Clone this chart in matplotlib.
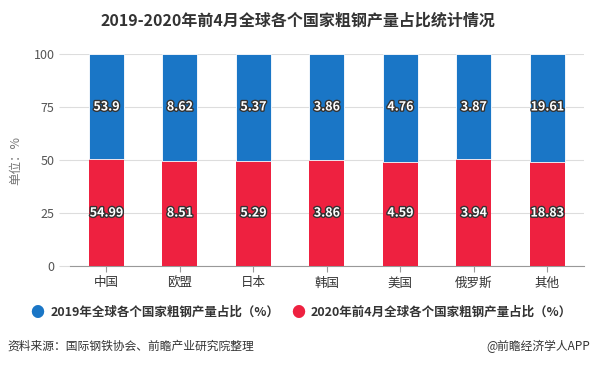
import matplotlib.pyplot as plt
import matplotlib.patheffects as pe
import numpy as np

plt.rcParams['font.family'] = ['Noto Sans CJK SC', 'DejaVu Sans']

countries = ["中国", "欧盟", "日本", "韩国", "美国", "俄罗斯", "其他"]
share_2019 = [53.9, 8.62, 5.37, 3.86, 4.76, 3.87, 19.61]
share_2020 = [54.99, 8.51, 5.29, 3.86, 4.59, 3.94, 18.83]

blue = "#1a76c6"
red = "#ee2140"

v19 = np.array(share_2019)
v20 = np.array(share_2020)
tot = v19 + v20
p20 = v20 / tot * 100
p19 = v19 / tot * 100

fig = plt.figure(figsize=(5.96, 3.67), dpi=100)
ax = fig.add_axes([0.117, 0.275, 0.863, 0.578])

x = np.arange(len(countries))
w = 0.476
ax.bar(x, p20, w, color=red, zorder=3)
ax.bar(x, p19, w, bottom=p20, color=blue, zorder=3, edgecolor="white", linewidth=0.6)

stroke = [pe.withStroke(linewidth=2, foreground="#333333")]
for i in range(len(x)):
    ax.text(x[i], 25, f"{share_2020[i]:g}", ha="center", va="center", color="white",
            fontsize=9, fontweight="bold", path_effects=stroke, zorder=4)
    ax.text(x[i], 75, f"{share_2019[i]:g}", ha="center", va="center", color="white",
            fontsize=9, fontweight="bold", path_effects=stroke, zorder=4)

ax.set_xlim(-0.5, len(x) - 0.5)
ax.set_ylim(0, 100)
ax.set_yticks([0, 25, 50, 75, 100])
ax.set_xticks(x)
ax.set_xticklabels(countries)
ax.yaxis.grid(True, color="#dddddd", linewidth=0.8, zorder=0)
for s in ["top", "right", "left"]:
    ax.spines[s].set_visible(False)
ax.spines["bottom"].set_color("#999999")
ax.tick_params(axis="y", length=8, color="#dddddd", labelcolor="#555555", labelsize=9, pad=3)
ax.tick_params(axis="x", length=4, color="#999999", labelcolor="#333333", labelsize=9)
ax.set_ylabel("单位：%", color="#777777", fontsize=9, labelpad=8)

fig.text(0.5, 0.945, "2019-2020年前4月全球各个国家粗钢产量占比统计情况", ha="center", va="center",
         fontsize=11.5, fontweight="bold", color="#333333")

fig.text(0.062, 0.148, "●", color=blue, fontsize=10, ha="center", va="center")
fig.text(0.085, 0.148, "2019年全球各个国家粗钢产量占比（%）", fontsize=9, fontweight="bold",
         color="#333333", ha="left", va="center")
fig.text(0.5, 0.148, "●", color=red, fontsize=10, ha="center", va="center")
fig.text(0.521, 0.148, "2020年前4月全球各个国家粗钢产量占比（%）", fontsize=9, fontweight="bold",
         color="#333333", ha="left", va="center")

fig.text(0.013, 0.057, "资料来源：国际钢铁协会、前瞻产业研究院整理", fontsize=8.5, color="#333333",
         ha="left", va="center")
fig.text(0.99, 0.057, "@前瞻经济学人APP", fontsize=8.5, color="#333333", ha="right", va="center")

fig.savefig("out.png", dpi=100)
